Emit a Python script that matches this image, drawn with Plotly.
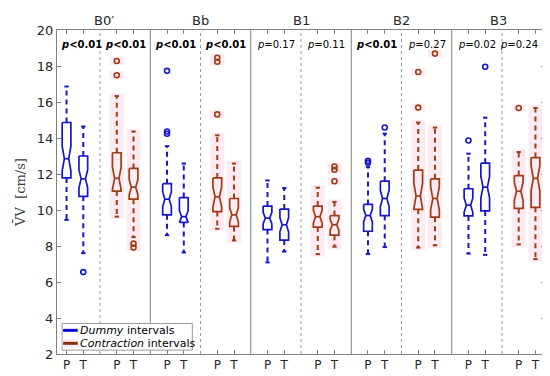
import plotly.graph_objects as go

# ---------------- data ----------------
groups = ["B0\u2032", "Bb", "B1", "B2", "B3"]
conditions = ["Dummy", "Contraction"]
phases = ["P", "T"]

# one entry per box, ordered group -> condition -> phase
lower_whisker = [9.45, 7.60, 9.63, 8.49, 8.60, 7.64, 8.96, 8.31, 7.09, 7.69,
                 7.55, 7.96, 7.55, 7.94, 7.91, 8.04, 7.58, 7.51, 8.09, 7.27]
q1 = [11.78, 10.76, 11.05, 10.60, 9.73, 9.31, 9.91, 9.09, 8.91, 8.33,
      9.05, 8.60, 8.82, 9.69, 10.04, 9.60, 9.67, 9.95, 10.09, 10.15]
median = [12.85, 11.73, 11.76, 11.27, 10.60, 9.63, 10.73, 9.73, 9.55, 9.18,
          9.63, 9.18, 9.69, 10.64, 10.78, 10.64, 10.27, 11.27, 11.04, 11.76]
q3 = [14.86, 13.00, 13.18, 12.31, 11.46, 10.69, 11.78, 10.64, 10.22, 10.05,
      10.22, 9.69, 10.31, 11.60, 12.22, 11.73, 11.18, 12.60, 11.91, 12.91]
upper_whisker = [16.86, 14.64, 16.33, 14.36, 13.55, 12.58, 14.15, 12.58, 11.64, 11.22,
                 11.24, 10.45, 12.38, 14.24, 14.86, 14.58, 13.13, 15.13, 13.22, 15.67]
notch_half = [0.68, 0.50, 0.62, 0.42, 0.42, 0.33, 0.55, 0.40, 0.32, 0.40,
              0.35, 0.30, 0.35, 0.45, 0.70, 0.65, 0.40, 0.60, 0.50, 0.70]
outliers = [[], [6.55], [17.49, 18.28], [7.91, 8.13],
            [14.24, 14.36, 17.73], [], [15.31, 18.24, 18.46], [],
            [], [], [], [11.60, 12.24, 12.42],
            [12.62, 12.73], [14.58], [15.69, 17.67], [18.69],
            [13.86], [17.96], [15.67], []]
p_values = ["<0.01", "<0.01", "<0.01", "<0.01", "=0.17", "=0.11",
            "<0.01", "=0.27", "=0.02", "=0.24"]

# ---------------- style ----------------
colors = {"Dummy": "rgb(22,22,205)", "Contraction": "rgb(160,60,20)"}
legend_colors = {"Dummy": "rgb(10,10,215)", "Contraction": "rgb(140,42,14)"}
pink = "rgb(253,235,243)"
axis_col = "#808080"
text_col = "#262626"
W = 0.26      # box half width (x units)
CAP = 0.13    # whisker cap half width
PW = 0.42     # pink patch half width

fig = go.Figure()
shapes = []

def xpos(i, c, k):
    return 6 * i + 3 * c + k

for c, cond in enumerate(conditions):
    bx, by, wx, wy, cx, cy, ox, oy = [], [], [], [], [], [], [], []
    for i in range(len(groups)):
        for k in range(len(phases)):
            b = i * 4 + c * 2 + k
            x = xpos(i, c, k)
            lo, a, m, q, hi, n = (lower_whisker[b], q1[b], median[b], q3[b],
                                  upper_whisker[b], notch_half[b])
            if cond == "Contraction":
                shapes.append(dict(type="rect", xref="x", yref="y", x0=x - PW, x1=x + PW,
                                   y0=lo - 0.15, y1=hi + 0.15, fillcolor=pink,
                                   line=dict(width=0), layer="below"))
                for o in outliers[b]:
                    shapes.append(dict(type="rect", xref="x", yref="y", x0=x - PW, x1=x + PW,
                                       y0=o - 0.22, y1=o + 0.22, fillcolor=pink,
                                       line=dict(width=0), layer="below"))
            # notched box outline
            bx += [x - W, x + W, x + W, x + W / 2, x + W, x + W, x - W, x - W, x - W / 2,
                   x - W, x - W, None, x - W / 2, x + W / 2, None]
            by += [q, q, m + n, m, m - n, a, a, m - n, m, m + n, q, None, m, m, None]
            # whiskers
            wx += [x, x, None, x, x, None]
            wy += [q, hi, None, a, lo, None]
            # caps
            cx += [x - CAP, x + CAP, None, x - CAP, x + CAP, None]
            cy += [hi, hi, None, lo, lo, None]
            for o in outliers[b]:
                ox.append(x)
                oy.append(o)
    col = colors[cond]
    fig.add_trace(go.Scatter(x=wx, y=wy, mode="lines", showlegend=False, hoverinfo="skip",
                             line=dict(color=col, width=2, dash="5px,4px")))
    fig.add_trace(go.Scatter(x=cx, y=cy, mode="lines", showlegend=False, hoverinfo="skip",
                             line=dict(color=col, width=2)))
    fig.add_trace(go.Scatter(x=bx, y=by, mode="lines", showlegend=False, hoverinfo="skip",
                             line=dict(color=col, width=1.7)))
    fig.add_trace(go.Scatter(x=ox, y=oy, mode="markers", showlegend=False, hoverinfo="skip",
                             marker=dict(symbol="circle-open", size=5, color=col,
                                         line=dict(width=1.6, color=col))))

# separators
for i in range(len(groups)):
    shapes.append(dict(type="line", xref="x", yref="paper", x0=6 * i + 2, x1=6 * i + 2,
                       y0=0, y1=1, line=dict(color="#9a9a9a", width=1, dash="dot")))
    if i < len(groups) - 1:
        shapes.append(dict(type="line", xref="x", yref="paper", x0=6 * i + 5, x1=6 * i + 5,
                           y0=0, y1=1, line=dict(color=axis_col, width=1)))

XMIN, XMAX = -0.57, 28.57
annotations = []
# group titles
for i, g in enumerate(groups):
    left = XMIN if i == 0 else 6 * i - 1
    right = XMAX if i == len(groups) - 1 else 6 * i + 5
    annotations.append(dict(x=(left + right) / 2, y=1, xref="x", yref="paper",
                            yanchor="bottom", text=g, showarrow=False,
                            font=dict(size=13, color=text_col)))
# p values
for j, p in enumerate(p_values):
    i, c = divmod(j, 2)
    if p.startswith("<"):
        txt = "<b><i>p</i>&lt;" + p[1:] + "</b>"
    else:
        txt = "<i>p</i>" + p
    xa, xanchor = xpos(i, c, 0) + 0.5, "center"
    if j == 0:
        xa, xanchor = XMIN + 0.1, "left"
    if j == len(p_values) - 1:
        xa, xanchor = XMAX - 0.3, "right"
    annotations.append(dict(x=xa, y=19.2, xref="x", yref="y", xanchor=xanchor,
                            yanchor="middle", text=txt, showarrow=False,
                            font=dict(size=10, color="black")))

# legend (drawn manually)
shapes.append(dict(type="rect", xref="paper", yref="paper", x0=0.0105, x1=0.2773,
                   y0=0.012, y1=0.094, fillcolor="white",
                   line=dict(color="#9a9a9a", width=1), layer="above"))
shapes.append(dict(type="rect", xref="paper", yref="paper", x0=0.0115, x1=0.0435,
                   y0=0.020, y1=0.046, fillcolor=pink, line=dict(width=0), layer="above"))
for r, cond in enumerate(conditions):
    yy = 0.073 - r * 0.040
    shapes.append(dict(type="line", xref="paper", yref="paper", x0=0.0125, x1=0.0425,
                       y0=yy, y1=yy, line=dict(color=legend_colors[cond], width=3),
                       layer="above"))
    annotations.append(dict(x=0.0435, y=yy, xref="paper", yref="paper", xanchor="left",
                            yanchor="middle", text="<i>" + cond + "</i> intervals",
                            showarrow=False, font=dict(size=11, color="black")))

tickvals = [xpos(i, c, k) for i in range(len(groups)) for c in range(2) for k in range(2)]
ticktext = [phases[k] for i in range(len(groups)) for c in range(2) for k in range(2)]

fig.update_layout(
    width=550, height=376,
    margin=dict(l=43, r=13, t=22, b=25),
    plot_bgcolor="white", paper_bgcolor="white",
    font=dict(family="DejaVu Sans", color=text_col),
    shapes=shapes, annotations=annotations,
    xaxis=dict(range=[XMIN, XMAX], tickvals=tickvals, ticktext=ticktext,
               ticks="inside", ticklen=4, tickcolor=axis_col, showline=True,
               linecolor=axis_col, mirror="allticks", showgrid=False, zeroline=False,
               tickfont=dict(size=12, color=text_col)),
    yaxis=dict(range=[2, 20], tickvals=list(range(2, 21, 2)), ticks="inside", ticklen=4,
               tickcolor=axis_col, showline=True, linecolor=axis_col, mirror="allticks",
               showgrid=False, zeroline=False, tickfont=dict(size=13, color=text_col),
               title=dict(text="V\u0304V  [cm/s]", standoff=8,
                          font=dict(family="DejaVu Serif", size=13, color="#404040"))),
)

fig.write_html("out.html")
